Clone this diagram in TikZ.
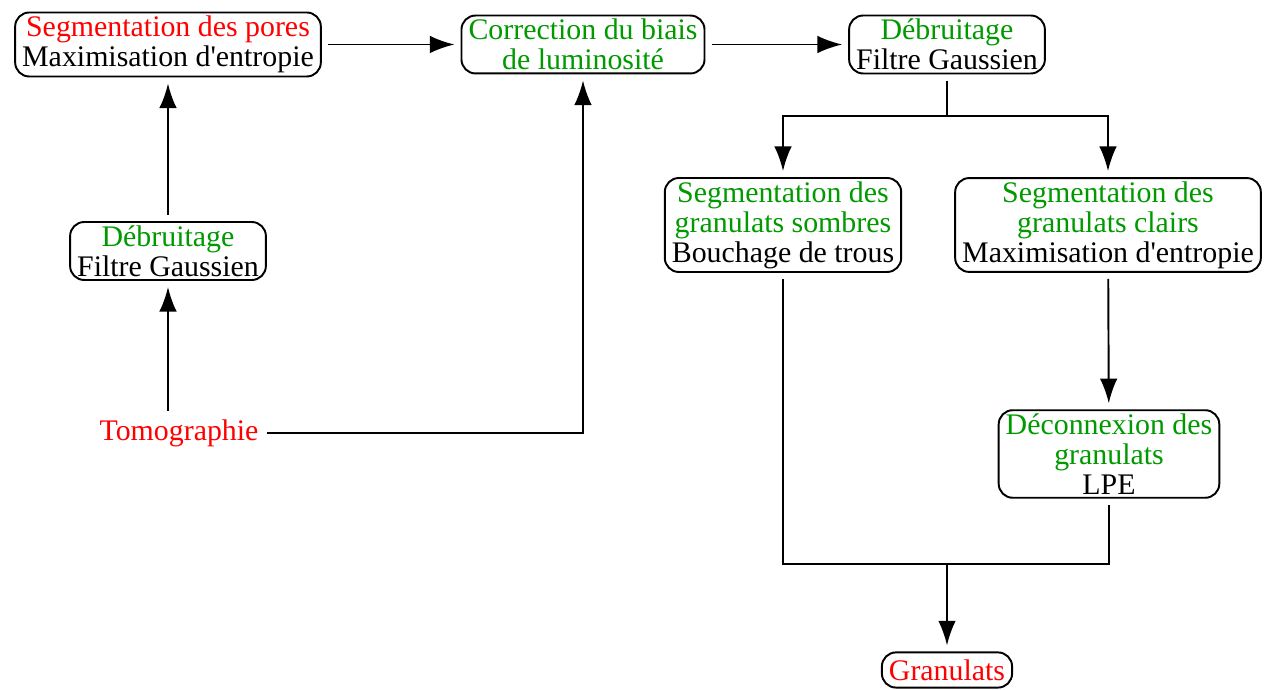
\documentclass[tikz,border=0pt]{standalone}
\usepackage{fontspec}
\setmainfont{Liberation Serif}
\usepackage{tikz}
\usetikzlibrary{arrows.meta}
\definecolor{stepgreen}{RGB}{0,153,0}
\definecolor{stepred}{RGB}{255,0,0}
\tikzstyle{stepbox} = [draw=black, line width=1.1pt, rounded corners=8pt,
    rectangle, align=center, inner xsep=4pt, inner ysep=2pt, outer sep=4pt]
\tikzstyle{plain} = [align=center, inner sep=1pt, outer sep=4pt]
\tikzstyle{link} = [line width=1.1pt]
\tikzstyle{arr} = [link, -{Latex[length=14pt,width=10pt]}]

\begin{document}
\begin{tikzpicture}
\fontsize{17}{17}\selectfont
\useasboundingbox (0,0) rectangle (25.42,13.8);

\def\rowtop{12.91}
\def\splity{11.48}
\def\mergey{2.52}

\node[stepbox] (pores) at (3.36,\rowtop) {\textcolor{stepred}{Segmentation des pores}\\ Maximisation d\textquotesingle entropie};
\node[stepbox] (correction) at (11.66,\rowtop) {\textcolor{stepgreen}{Correction du biais}\\ \textcolor{stepgreen}{de luminosité}};
\node[stepbox] (debruitB) at (18.94,\rowtop) {\textcolor{stepgreen}{Débruitage}\\ Filtre Gaussien};
\node[stepbox] (debruitA) at (3.36,8.78) {\textcolor{stepgreen}{Débruitage}\\ Filtre Gaussien};
\node[plain] (tomo) at (3.58,5.14) {\textcolor{stepred}{Tomographie}};

\node[stepbox] (sombres) at (15.66,9.30) {\textcolor{stepgreen}{Segmentation des}\\ \textcolor{stepgreen}{granulats sombres}\\ Bouchage de trous};
\node[stepbox] (clairs) at (22.16,9.30) {\textcolor{stepgreen}{Segmentation des}\\ \textcolor{stepgreen}{granulats clairs}\\ Maximisation d\textquotesingle entropie};
\node[stepbox] (deconnexion) at (22.18,4.72) {\textcolor{stepgreen}{Déconnexion des}\\ \textcolor{stepgreen}{granulats}\\ LPE};
\node[stepbox, minimum height=20pt] (granulats) at (18.94,0.40) {\textcolor{stepred}{Granulats}};

\coordinate (split) at (18.94,\splity);
\coordinate (merge) at (18.94,\mergey);

% left branch
\draw[arr] (tomo.north -| debruitA) -- (debruitA);
\draw[arr] (debruitA) -- (pores);
\draw[arr] (tomo.east) -| (correction.south);

% top row
\draw[arr] (pores) -- (correction);
\draw[arr] (correction) -- (debruitB);

% right branch
\draw[link] (debruitB) -- (split);
\draw[arr] (split) -| (sombres);
\draw[arr] (split) -| (clairs);
\draw[arr] (clairs) -- (deconnexion);
\draw[link] (sombres) |- (merge) -| (deconnexion);
\draw[arr] (merge) -- (granulats);

\end{tikzpicture}
\end{document}
